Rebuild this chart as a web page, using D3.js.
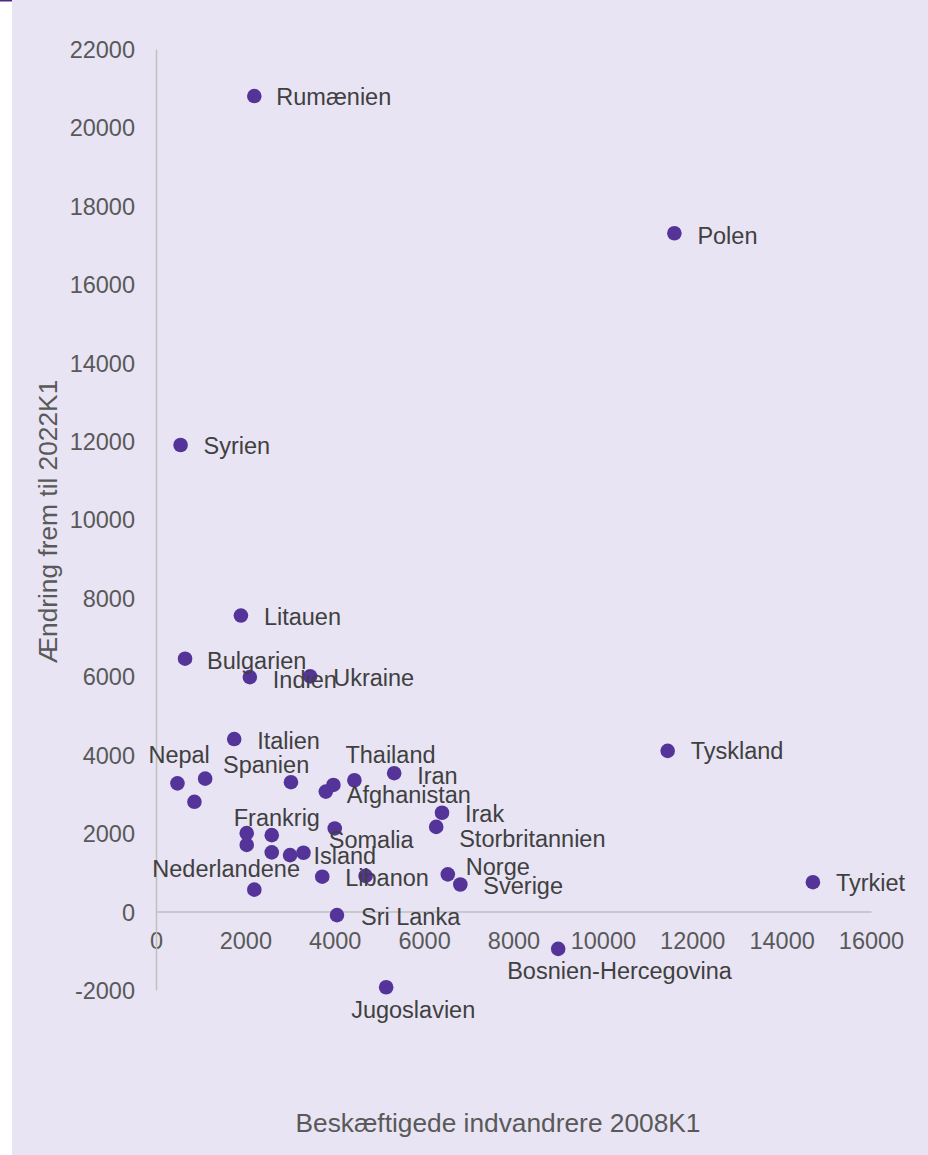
<!DOCTYPE html>
<html>
<head>
<meta charset="utf-8">
<script src="https://cdn.jsdelivr.net/npm/d3@7"></script>
<style>
  html, body { margin: 0; padding: 0; background: #ffffff; }
  svg { display: block; }
  text { font-family: "Liberation Sans", Arial, sans-serif; }
</style>
</head>
<body>
<svg id="chart" width="928" height="1155"></svg>
<script>
// ---- Data ----
const countries = [
  "Rumænien","Polen","Syrien","Litauen","Bulgarien","Indien","Ukraine","Italien",
  "Tyskland","Tyrkiet","Bosnien-Hercegovina","Jugoslavien","Sri Lanka","Nepal",
  "", "", "Spanien","Afghanistan","","Thailand","Iran","Frankrig","","","","",
  "Island","Somalia","Nederlandene","Libanon","","Irak","Storbritannien","Norge","Sverige"
];
const employed2008 = [
  2200, 11600, 550, 1900, 650, 2100, 3450, 1750,
  11450, 14700, 9000, 5150, 4050, 480,
  1100, 860, 3020, 3800, 3970, 4440, 5330, 2590, 2030, 2030, 2590, 3000,
  3300, 4000, 2200, 3720, 4690, 6400, 6270, 6530, 6810
];
const change2022 = [
  20800, 17300, 11900, 7550, 6450, 5980, 6000, 4400,
  4100, 750, -950, -1930, -90, 3270,
  3390, 2800, 3300, 3060, 3230, 3350, 3530, 1950, 2000, 1700, 1510, 1440,
  1500, 2120, 560, 890, 910, 2520, 2160, 950, 690
];
const xTicks = [0, 2000, 4000, 6000, 8000, 10000, 12000, 14000, 16000];
const yTicks = [-2000, 0, 2000, 4000, 6000, 8000, 10000, 12000, 14000, 16000, 18000, 20000, 22000];
const xTitle = "Beskæftigede indvandrere 2008K1";
const yTitle = "Ændring frem til 2022K1";

// ---- Label placement (layout only, pixel offsets from each dot) ----
const labelOffsets = {
  "Rumænien": [22, 0], "Polen": [23, 2], "Syrien": [23, 1], "Litauen": [23, 1],
  "Bulgarien": [22, 2], "Indien": [23, 2], "Ukraine": [23, 1], "Italien": [23, 1],
  "Tyskland": [23, 0], "Tyrkiet": [23, 0], "Bosnien-Hercegovina": [-51, 22],
  "Jugoslavien": [-35, 22], "Sri Lanka": [24, 1], "Nepal": [-29, -29],
  "Spanien": [-68, -18], "Afghanistan": [21, 3], "Thailand": [-9, -26],
  "Iran": [23, 2], "Frankrig": [-38, -18], "Island": [10, 3], "Somalia": [-6, 11],
  "Nederlandene": [-102, -21], "Libanon": [23, 1], "Irak": [23, 1],
  "Storbritannien": [23, 12], "Norge": [18, -8], "Sverige": [23, 1]
};

const points = countries.map((c, i) => ({ name: c, x: employed2008[i], y: change2022[i] }));

// ---- Styles ----
const bg = "#E8E4F4";
const dotColor = "#55349A";
const labelColor = "#404040";
const tickColor = "#595959";
const axisColor = "#BFBFBF";
const fontFam = "Liberation Sans, Arial, sans-serif";

const svg = d3.select("#chart");

svg.append("rect").attr("x", 12).attr("y", 0).attr("width", 916).attr("height", 1155).attr("fill", bg);
svg.append("rect").attr("x", 0).attr("y", 0).attr("width", 12).attr("height", 1.5).attr("fill", "#4A2A86");

const x = d3.scaleLinear().domain([0, 16000]).range([156, 871]);
const y = d3.scaleLinear().domain([-2000, 22000]).range([990, 49]);

// Axes
const fmt = d => String(d);
const xAxis = d3.axisBottom(x).tickValues(xTicks).tickSize(0).tickPadding(0).tickFormat(fmt);
const yAxis = d3.axisLeft(y).tickValues(yTicks).tickSize(0).tickPadding(0).tickFormat(fmt);

const gx = svg.append("g").attr("transform", `translate(0,${y(0)})`).call(xAxis);
gx.attr("font-family", fontFam);
gx.select(".domain").attr("stroke", axisColor).attr("stroke-width", 1.5);
gx.selectAll(".tick text")
  .attr("fill", tickColor).attr("font-size", 23.5)
  .attr("y", 37.5).attr("dy", 0);

const gy = svg.append("g").attr("transform", `translate(${x(0)},0)`).call(yAxis);
gy.attr("font-family", fontFam);
gy.select(".domain").attr("stroke", axisColor).attr("stroke-width", 1.5);
gy.selectAll(".tick text")
  .attr("fill", tickColor).attr("font-size", 23.5)
  .attr("x", -21).attr("dy", "0.36em");

// Dots
svg.append("g").selectAll("circle").data(points).join("circle")
  .attr("cx", d => x(d.x)).attr("cy", d => y(d.y)).attr("r", 7.3)
  .attr("fill", dotColor);

// Labels
svg.append("g").selectAll("text").data(points.filter(d => d.name)).join("text")
  .attr("x", d => x(d.x) + (labelOffsets[d.name] || [23, 0])[0])
  .attr("y", d => y(d.y) + (labelOffsets[d.name] || [23, 0])[1])
  .attr("dy", "0.36em")
  .attr("font-size", 23.5)
  .attr("fill", labelColor)
  .text(d => d.name);

// Axis titles
svg.append("text")
  .attr("x", 498).attr("y", 1132)
  .attr("text-anchor", "middle").attr("font-size", 26.3).attr("fill", tickColor)
  .text(xTitle);

svg.append("text")
  .attr("transform", "translate(48,521.5) rotate(-90)")
  .attr("text-anchor", "middle").attr("dy", "0.36em").attr("font-size", 26.3).attr("fill", tickColor)
  .text(yTitle);
</script>
</body>
</html>
